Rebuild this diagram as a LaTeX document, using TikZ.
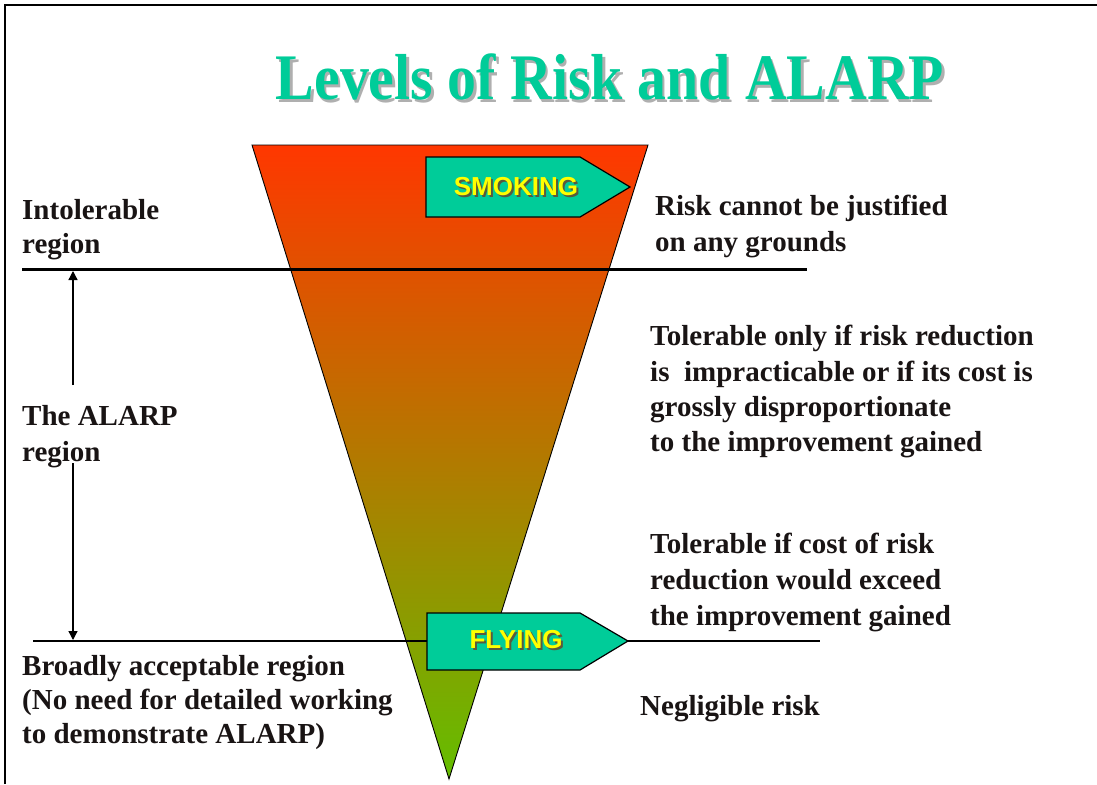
\documentclass[tikz,border=0pt]{standalone}
\usepackage{fontspec}
\setmainfont{Liberation Serif}
\newfontfamily\boxfont{Liberation Sans}
\usetikzlibrary{arrows.meta}
\definecolor{titlegreen}{RGB}{0,204,153}
\definecolor{titleshadow}{RGB}{175,175,175}
\definecolor{boxgreen}{RGB}{0,204,153}
\definecolor{boxyellow}{RGB}{255,255,0}
\definecolor{boxshadow}{RGB}{90,90,60}
\definecolor{risktop}{RGB}{255,55,0}
\definecolor{riskmid}{RGB}{215,115,0}
\definecolor{riskbottom}{RGB}{100,190,0}
\definecolor{textdark}{RGB}{25,20,20}
\tikzset{
  lbl/.style={anchor=base west, inner sep=0pt, text=textdark, font=\bfseries\fontsize{29}{36}\selectfont},
  arrowbox/.style={draw=black, line width=1.2pt, fill=boxgreen},
  boxtext/.style={inner sep=0pt, text=boxyellow, font=\boxfont\bfseries\fontsize{26}{30}\selectfont},
  boxtextshadow/.style={inner sep=0pt, text=boxshadow, font=\boxfont\bfseries\fontsize{26}{30}\selectfont},
  regionline/.style={draw=black},
  alarparrow/.style={draw=black, line width=1.3pt, -{Triangle[width=9pt,length=9pt]}}
}
\begin{document}
\begin{tikzpicture}[x=1pt,y=-1pt]
\useasboundingbox (0,0) rectangle (1097,784);
\fill[white] (0,0) rectangle (1097,784);
% frame
\draw[line width=2.5pt] (5,784) -- (5,5) -- (1097,5);
% title
\node[inner sep=0pt, text=titleshadow, font=\bfseries\fontsize{65}{70}\selectfont] (titleshadow) at (612.5,79.5)
  {\scalebox{0.89}[1]{Levels of Risk and ALARP}};
\node[inner sep=0pt, text=titlegreen, font=\bfseries\fontsize{65}{70}\selectfont] (title) at (610,77)
  {\scalebox{0.89}[1]{Levels of Risk and ALARP}};
% risk triangle
\coordinate (tl) at (252,145);
\coordinate (tr) at (648,145);
\coordinate (tip) at (449,779);
\shade[top color=risktop, middle color=riskmid, bottom color=riskbottom] (tl) -- (tr) -- (tip) -- cycle;
\draw[line width=0.9pt] (tl) -- (tr) -- (tip) -- cycle;
% region lines
\coordinate (u1) at (22,269);
\coordinate (u2) at (807,269);
\coordinate (l1) at (33,641);
\coordinate (l2) at (820,641);
\draw[regionline, line width=3pt] (u1) -- (u2);
\draw[regionline, line width=2pt] (l1) -- (l2);
% arrow boxes
\draw[arrowbox] (426,157) -- (580,157) -- (630,187) -- (580,217) -- (426,217) -- cycle;
\node[boxtextshadow] (smokingshadow) at (518,189) {SMOKING};
\node[boxtext] (smoking) at (516,187) {SMOKING};
\draw[arrowbox] (427,613) -- (580,613) -- (628,641) -- (580,670) -- (427,670) -- cycle;
\node[boxtextshadow] (flyingshadow) at (518,642) {FLYING};
\node[boxtext] (flying) at (516,640) {FLYING};
% ALARP arrows
\coordinate (a1s) at (73,385);
\coordinate (a1e) at (73,271);
\coordinate (a2s) at (73,463);
\coordinate (a2e) at (73,640);
\draw[alarparrow] (a1s) -- (a1e);
\draw[alarparrow] (a2s) -- (a2e);
% left labels
\node[lbl] (intol) at (22,219) {\parbox[t]{500pt}{\raggedright Intolerable\\[-2pt] region}};
\node[lbl] (alarp) at (22,425) {\parbox[t]{500pt}{\raggedright The ALARP\\ region}};
\node[lbl] (broad) at (22,675) {\parbox[t]{500pt}{\raggedright Broadly acceptable region\\[-2pt] (No need for detailed working\\[-2pt] to demonstrate ALARP)}};
% right labels
\node[lbl] (justify) at (655,215) {\parbox[t]{500pt}{\raggedright Risk cannot be justified\\ on any grounds}};
\node[lbl] (tolonly) at (650,345) {\parbox[t]{500pt}{\raggedright Tolerable only if risk reduction\\ is\ \ impracticable or if its cost is\\[-1pt] grossly disproportionate\\[-1pt] to the improvement gained}};
\node[lbl] (tolif) at (650,553) {\parbox[t]{500pt}{\raggedright Tolerable if cost of risk\\ reduction would exceed\\ the improvement gained}};
\node[lbl] (neglig) at (640,715) {Negligible risk};
\end{tikzpicture}
\end{document}
